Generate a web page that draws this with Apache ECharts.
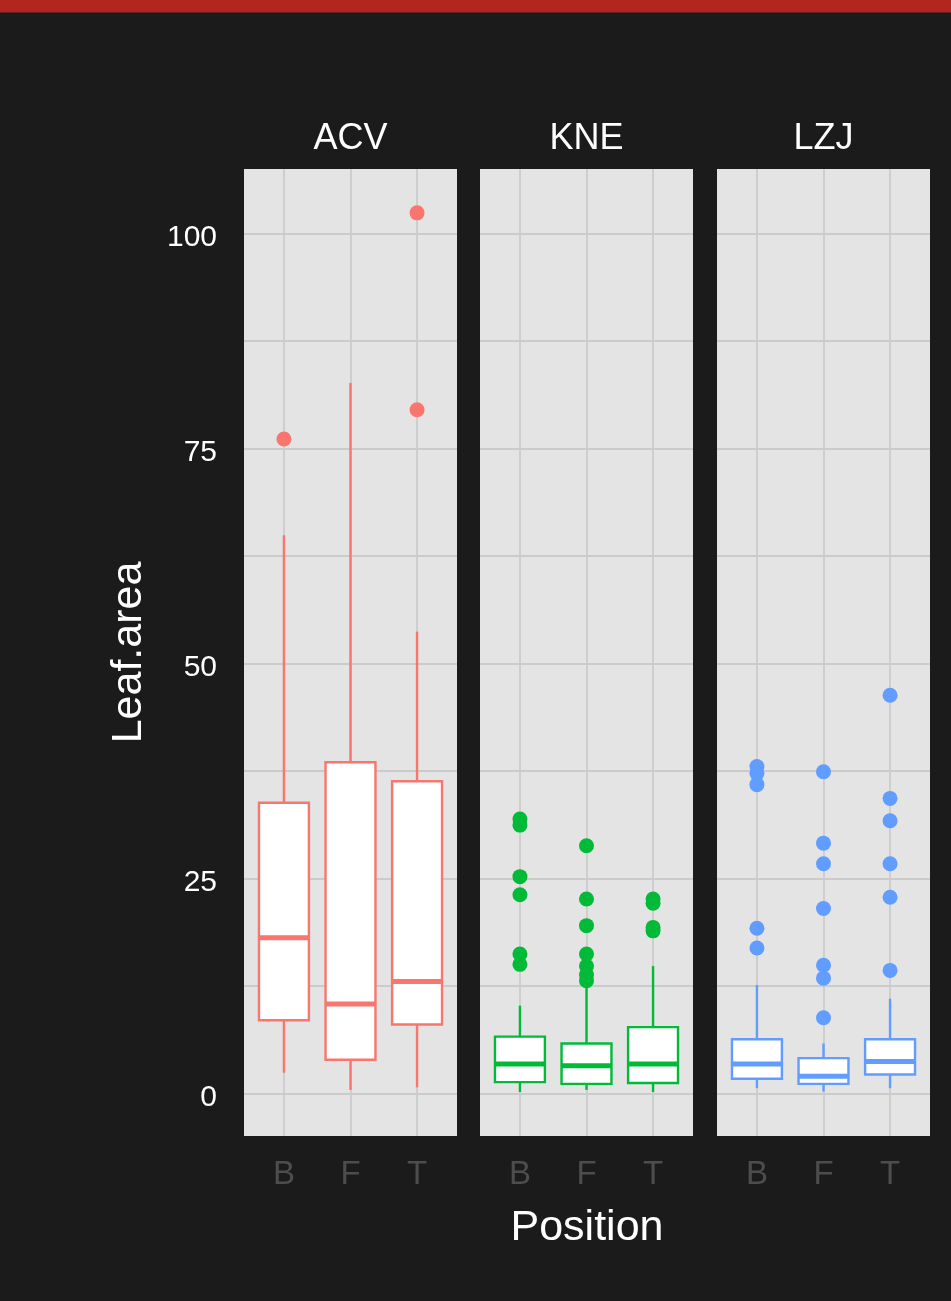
<!DOCTYPE html>
<html>
<head>
<meta charset="utf-8">
<script src="https://cdn.jsdelivr.net/npm/echarts@6/dist/echarts.min.js"></script>
<style>
html,body{margin:0;padding:0;background:#1b1b1b;}
#chart{width:951px;height:1301px;}
</style>
</head>
<body>
<div id="chart"></div>
<script>
// ---------------- data ----------------
const facets = ['ACV', 'KNE', 'LZJ'];
const positions = ['B', 'F', 'T'];
const yTickLabels = [0, 25, 50, 75, 100];
const yGridValues = [0, 12.5, 25, 37.5, 50, 62.5, 75, 87.5, 100];

// [lower whisker, Q1, median, Q3, upper whisker] for B, F, T
const acvStats = [[2.4, 8.5, 18.1, 33.8, 64.9], [0.4, 3.9, 10.4, 38.5, 82.6], [0.7, 8.0, 13.0, 36.3, 53.7]];
const kneStats = [[0.15, 1.3, 3.4, 6.6, 10.2], [0.4, 1.1, 3.2, 5.8, 12.5], [0.15, 1.2, 3.4, 7.7, 14.8]];
const lzjStats = [[0.6, 1.7, 3.4, 6.3, 12.6], [0.2, 1.1, 2.0, 4.1, 5.8], [0.6, 2.2, 3.7, 6.3, 11.0]];

// outliers for B, F, T
const acvOutliers = [[76.1], [], [79.5, 102.4]];
const kneOutliers = [[31.9, 31.2, 25.2, 23.1, 16.2, 15.0], [28.8, 22.6, 19.5, 16.2, 14.8, 13.8, 13.1], [22.6, 22.1, 19.3, 18.9]];
const lzjOutliers = [[38.0, 37.2, 35.9, 19.2, 16.9], [37.4, 29.1, 26.7, 21.5, 14.9, 13.4, 8.8], [46.3, 34.3, 31.7, 26.7, 22.8, 14.3]];

const facetStats = [acvStats, kneStats, lzjStats];
const facetOutliers = [acvOutliers, kneOutliers, lzjOutliers];
const facetColors = ['#F8766D', '#00BA38', '#619CFF'];

// ---------------- layout ----------------
const GRID_LEFTS = [244, 480, 717];
const GRID_W = 213;
const GRID_TOP = 169;
const GRID_H = 967;
const Y_MIN = -4.96, Y_MAX = 107.5;
const BOX_W = 0.75;
const FONT = '"Liberation Sans", Arial, sans-serif';
const GRID_LINE = '#cbcbcb';

function renderBox(params, api) {
  const x = api.value(0);
  const pLo = api.coord([x, api.value(1)]);
  const pQ1 = api.coord([x, api.value(2)]);
  const pMed = api.coord([x, api.value(3)]);
  const pQ3 = api.coord([x, api.value(4)]);
  const pHi = api.coord([x, api.value(5)]);
  const halfW = api.size([BOX_W, 0])[0] / 2;
  const color = api.visual('color');
  return {
    type: 'group',
    children: [
      { type: 'line', shape: { x1: pLo[0], y1: pLo[1], x2: pQ1[0], y2: pQ1[1] }, style: { stroke: color, lineWidth: 2.4 } },
      { type: 'line', shape: { x1: pQ3[0], y1: pQ3[1], x2: pHi[0], y2: pHi[1] }, style: { stroke: color, lineWidth: 2.4 } },
      { type: 'rect', shape: { x: pQ3[0] - halfW, y: pQ3[1], width: halfW * 2, height: pQ1[1] - pQ3[1] }, style: { fill: '#ffffff', stroke: color, lineWidth: 2.4 } },
      { type: 'line', shape: { x1: pMed[0] - halfW, y1: pMed[1], x2: pMed[0] + halfW, y2: pMed[1] }, style: { stroke: color, lineWidth: 5 } }
    ]
  };
}

const grids = [], xAxes = [], yAxes = [], series = [], graphics = [];

graphics.push({ type: 'rect', shape: { x: 0, y: 0, width: 951, height: 12.5 }, style: { fill: '#b1261f' }, silent: true });

facets.forEach((name, f) => {
  grids.push({ left: GRID_LEFTS[f], top: GRID_TOP, width: GRID_W, height: GRID_H, show: true, backgroundColor: '#e4e4e4', borderWidth: 0, containLabel: false });
  xAxes.push({
    type: 'value', gridIndex: f, min: 0.4, max: 3.6,
    axisLine: { show: false },
    axisTick: { show: false, customValues: [1, 2, 3] },
    axisLabel: { show: true, customValues: [1, 2, 3], formatter: v => positions[Math.round(v) - 1], color: '#4d4d4d', fontSize: 33, fontFamily: FONT, margin: 22 },
    splitLine: { show: true, lineStyle: { color: GRID_LINE, width: 1.8 } }
  });
  yAxes.push({
    type: 'value', gridIndex: f, min: Y_MIN, max: Y_MAX,
    axisLine: { show: false },
    axisTick: { show: false, customValues: yGridValues },
    axisLabel: { show: f === 0, customValues: yTickLabels, color: '#ffffff', fontSize: 30, fontFamily: FONT, margin: 27, verticalAlign: 'top', lineHeight: 8 },
    splitLine: { show: true, lineStyle: { color: GRID_LINE, width: 1.8 } }
  });
  series.push({
    type: 'custom', name: name, xAxisIndex: f, yAxisIndex: f,
    color: facetColors[f],
    renderItem: renderBox,
    encode: { x: 0, y: [1, 2, 3, 4, 5] },
    data: facetStats[f].map((s, i) => [i + 1].concat(s)),
    z: 3
  });
  const pts = [];
  facetOutliers[f].forEach((arr, i) => arr.forEach(v => pts.push([i + 1, v])));
  series.push({
    type: 'scatter', name: name + ' outliers', xAxisIndex: f, yAxisIndex: f,
    symbol: 'circle', symbolSize: 15,
    itemStyle: { color: facetColors[f], opacity: 1 },
    data: pts, z: 4
  });
  graphics.push({
    type: 'text', x: GRID_LEFTS[f] + GRID_W / 2, y: 139,
    style: { text: name, fill: '#ffffff', fontSize: 36, fontFamily: FONT, align: 'center', verticalAlign: 'middle' }
  });
});

graphics.push({
  type: 'text', x: (GRID_LEFTS[0] + GRID_LEFTS[2] + GRID_W) / 2, y: 1228,
  style: { text: 'Position', fill: '#ffffff', fontSize: 43, fontFamily: FONT, align: 'center', verticalAlign: 'middle' }
});
graphics.push({
  type: 'text', x: 129, y: GRID_TOP + GRID_H / 2, rotation: Math.PI / 2,
  style: { text: 'Leaf.area', fill: '#ffffff', fontSize: 43, fontFamily: FONT, align: 'center', verticalAlign: 'middle' }
});

const chart = echarts.init(document.getElementById('chart'), null, { renderer: 'canvas' });
chart.setOption({
  backgroundColor: '#1b1b1b',
  animation: false,
  grid: grids,
  xAxis: xAxes,
  yAxis: yAxes,
  series: series,
  graphic: graphics
});
</script>
</body>
</html>
